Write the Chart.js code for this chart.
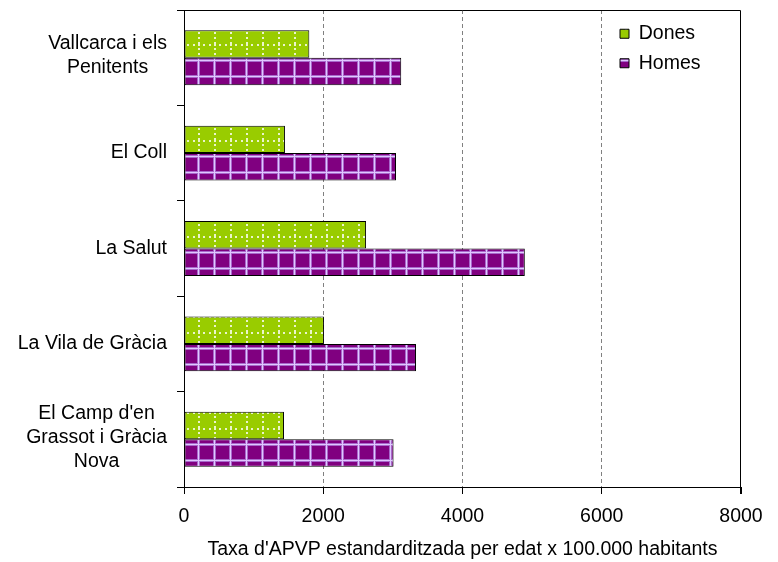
<!DOCTYPE html>
<html><head><meta charset="utf-8">
<script src="https://cdn.jsdelivr.net/npm/chart.js@4/dist/chart.umd.min.js"></script>
<style>html,body{margin:0;padding:0;background:#fff}#wrap{width:778px;height:562px;position:relative}</style>
</head><body><div id="wrap"><canvas id="c" width="778" height="562"></canvas></div>
<script>
const categories = [["Vallcarca i els","Penitents"],"El Coll","La Salut","La Vila de Gràcia",["El Camp d'en","Grassot i Gràcia","Nova"]];
const seriesNames = ["Dones","Homes"];
const donesValues = [1800,1450,2615,2010,1436];
const homesValues = [3120,3045,4895,3332,3010];
const xTickValues = [0,2000,4000,6000,8000];
const xTitle = "Taxa d'APVP estandarditzada per edat x 100.000 habitants";

const FONT = '"Liberation Sans", Arial, sans-serif';
const FS = 19.5;
Chart.defaults.font.family = FONT;
Chart.defaults.font.size = FS;
Chart.defaults.color = '#000';

function makePattern(kind){
  const t = document.createElement('canvas'); t.width = 16; t.height = 16;
  const g = t.getContext('2d');
  if(kind === 'green'){
    g.fillStyle = '#99CC00'; g.fillRect(0,0,16,16);
    g.fillStyle = 'rgba(255,255,255,0.8)';
    [0,5,10].forEach(y=>g.fillRect(6,y,2,2));
    [0,5,10].forEach(x=>g.fillRect(x+1,12,2,2));
  } else {
    g.fillStyle = '#800080'; g.fillRect(0,0,16,16);
    g.fillStyle = '#A868CC';
    g.fillRect(5,0,3,16); g.fillRect(0,11,16,3);
    g.fillStyle = '#E0C8FF';
    g.fillRect(6,0,1,16); g.fillRect(0,12,16,1);
  }
  return document.createElement('canvas').getContext('2d').createPattern(t,'repeat');
}

const frame = {
  id:'frame',
  afterDraw(chart){
    const {ctx, chartArea:a} = chart;
    ctx.save();
    ctx.strokeStyle = '#000'; ctx.lineWidth = 1;
    const l = Math.round(a.left)+0.5, r = Math.round(a.right)-0.5, t = Math.round(a.top)+0.5;
    ctx.beginPath(); ctx.moveTo(l,t); ctx.lineTo(r,t); ctx.lineTo(r, Math.round(a.bottom)+7); ctx.stroke();
    ctx.restore();
  }
};

const yLabels = {
  id:'yLabels',
  afterDraw(chart){
    const ys = chart.scales.y, ctx = chart.ctx;
    ctx.save();
    ctx.font = FS + 'px ' + FONT; ctx.fillStyle = '#000';
    ctx.textAlign = 'center'; ctx.textBaseline = 'middle';
    const lh = 24;
    categories.forEach((lab,i)=>{
      const lines = Array.isArray(lab) ? lab : [lab];
      const bw = Math.max(...lines.map(s=>ctx.measureText(s).width));
      const cx = ys.right - 17 - bw/2;
      const cy = ys.getPixelForTick(i) - (lines.length>1 ? 2 : 0);
      const y0 = cy - (lines.length-1)*lh/2;
      lines.forEach((s,k)=>ctx.fillText(s, cx, y0 + k*lh));
    });
    ctx.restore();
  }
};

const legendPos = {
  id:'legendPos',
  afterLayout(chart){
    const lg = chart.legend; if(!lg) return;
    const w = lg.width, h = lg.height;
    lg.left = 610; lg.right = 610 + w; lg.top = 14; lg.bottom = 14 + h;
  }
};

new Chart(document.getElementById('c'), {
  type:'bar',
  data:{
    labels: categories,
    datasets:[
      {label: seriesNames[0], data: donesValues, backgroundColor: makePattern('green'), borderColor:'#000', borderWidth:1, borderSkipped:false},
      {label: seriesNames[1], data: homesValues, backgroundColor: makePattern('purple'), borderColor:'#000', borderWidth:1, borderSkipped:false}
    ]
  },
  options:{
    indexAxis:'y',
    responsive:false,
    animation:false,
    devicePixelRatio:1,
    barPercentage:1,
    categoryPercentage:0.575,
    layout:{padding:{top:10,right:37,left:0,bottom:0}},
    plugins:{
      tooltip:{enabled:false},
      legend:{
        position:'chartArea', align:'start',
        labels:{boxWidth:9, boxHeight:9, padding:10, color:'#000', font:{size:FS}}
      }
    },
    scales:{
      x:{
        type:'linear', min:0, max:8000,
        afterBuildTicks(s){ s.ticks = xTickValues.map(v=>({value:v})); },
        afterFit(s){ s.height = 75; },
        ticks:{callback:v=>String(v), padding:11, font:{size:FS}, color:'#000', maxRotation:0},
        grid:{
          color: c => (c.tick && (c.tick.value===0 || c.tick.value===8000)) ? 'rgba(0,0,0,0)' : '#808080',
          tickColor:'#000', tickLength:7, tickBorderDash:[], lineWidth:1, drawTicks:true
        },
        border:{display:true, color:'#000', width:1, dash:[4,3]},
        title:{display:true, text:xTitle, font:{size:FS}, color:'#000', padding:{top:0,bottom:1}}
      },
      y:{
        type:'category',
        afterFit(s){ s.width = 184; },
        ticks:{display:false},
        grid:{offset:true, drawOnChartArea:false, drawTicks:true, tickLength:7, color:'#000', lineWidth:1},
        border:{display:true, color:'#000', width:1}
      }
    }
  },
  plugins:[frame, yLabels, legendPos]
});
</script>
</body></html>
